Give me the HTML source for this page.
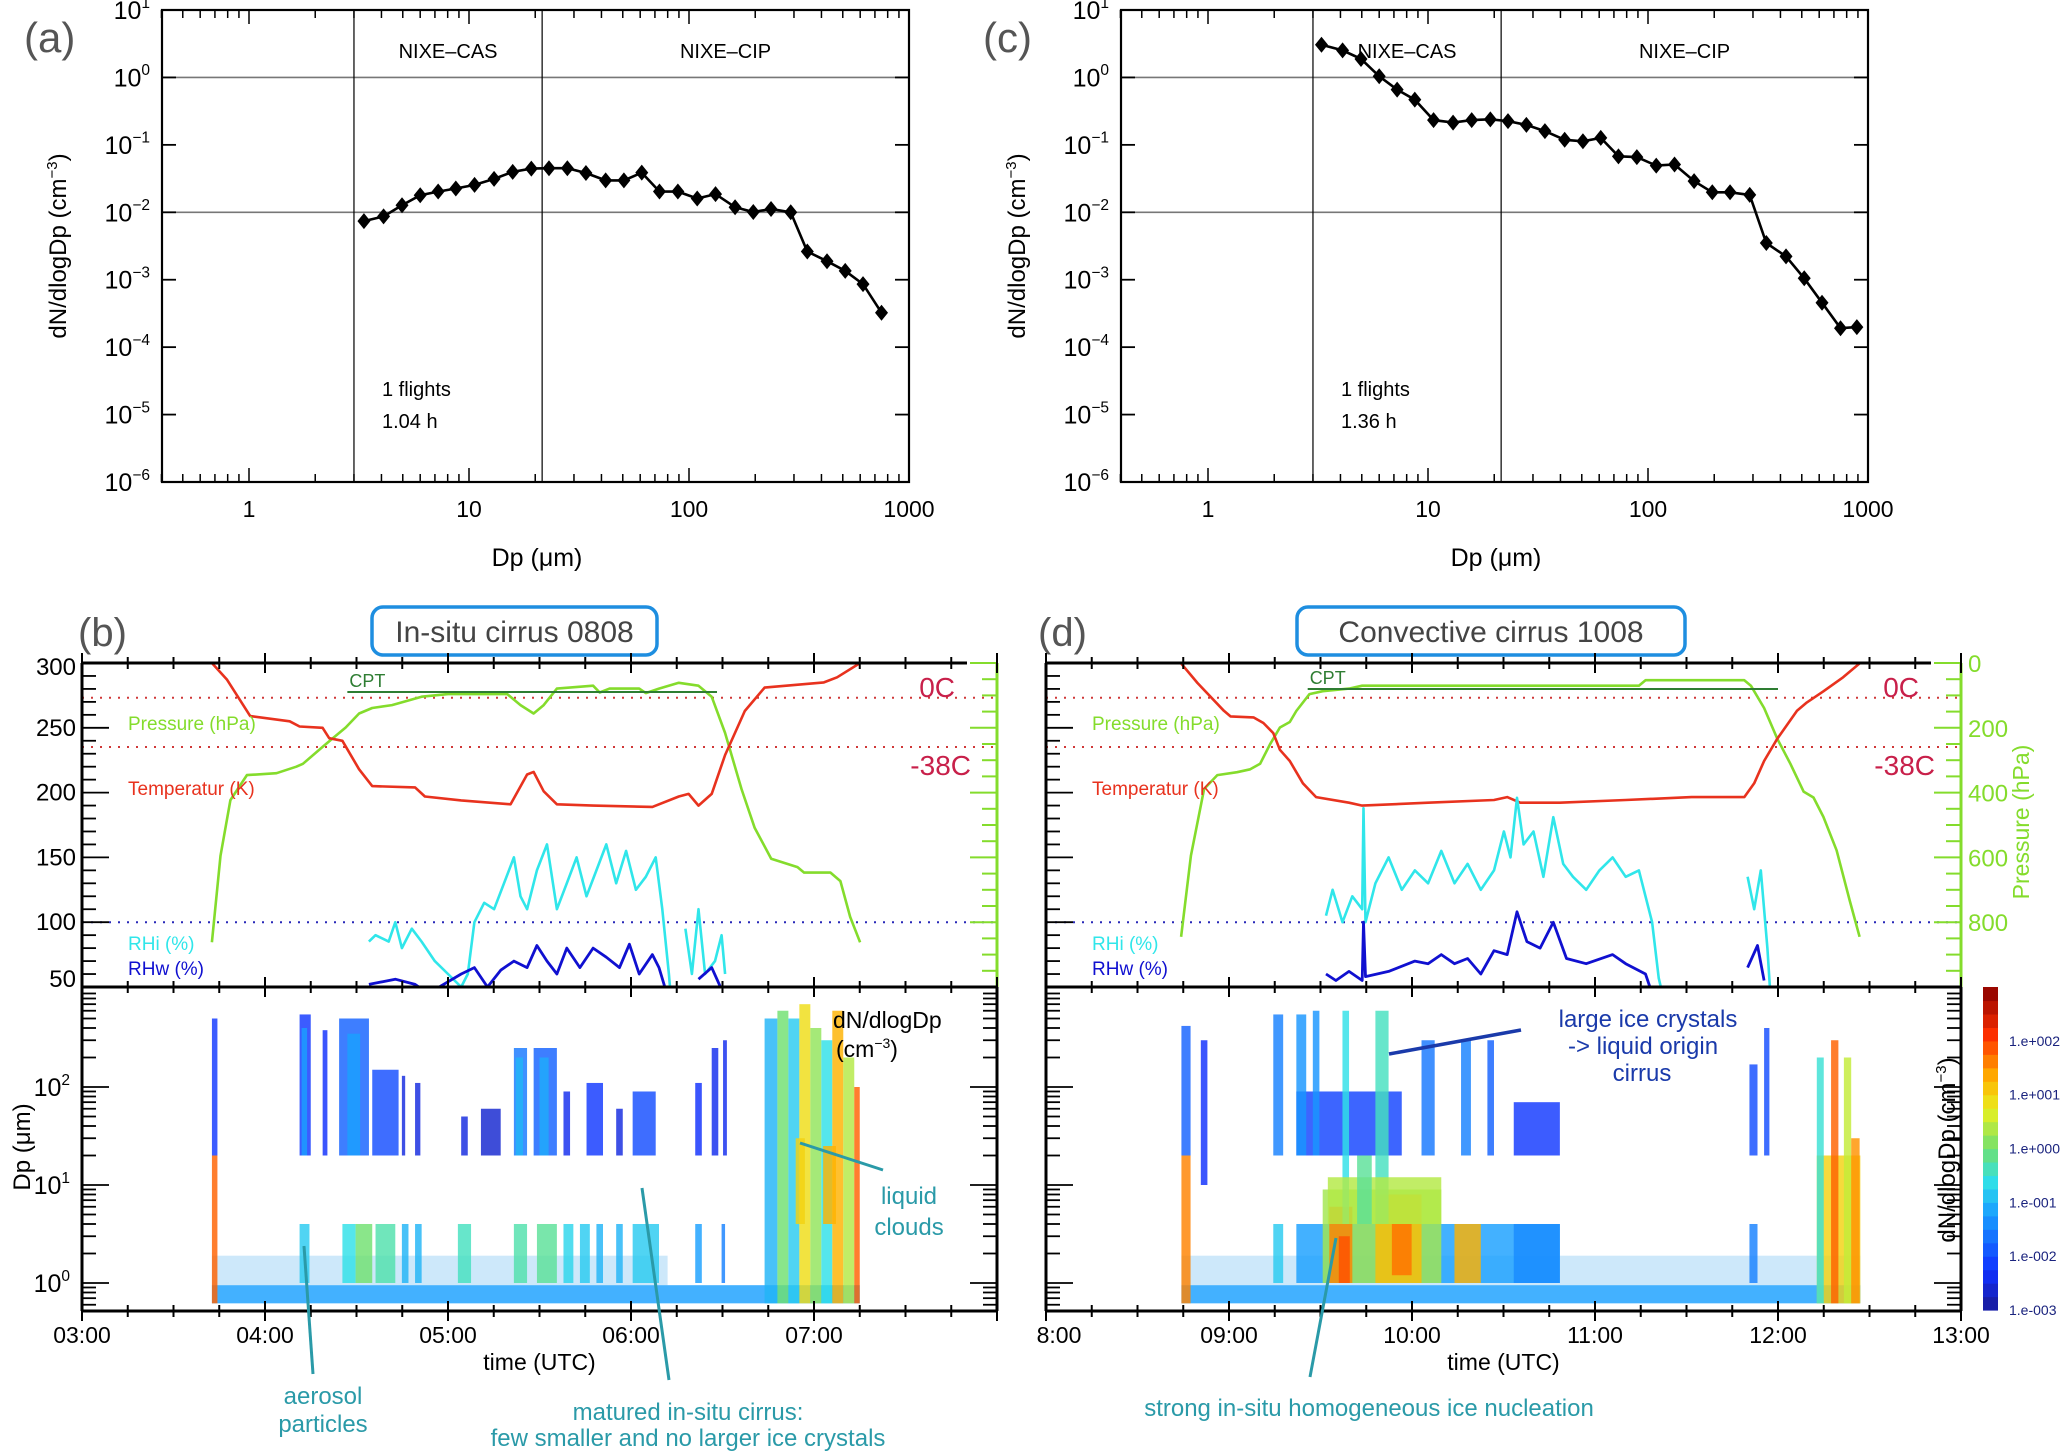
<!DOCTYPE html>
<html><head><meta charset="utf-8">
<style>
html,body{margin:0;padding:0;background:#fff;}
svg{display:block;font-family:"Liberation Sans",sans-serif;}
</style></head>
<body>
<svg id="fig" xmlns="http://www.w3.org/2000/svg" width="2067" height="1454" viewBox="0 0 2067 1454">
<rect x="0" y="0" width="2067" height="1454" fill="#fff"/>
</svg>
<script>
// ===== size distribution data =====
const dpBinsA = [3.33,4.09,4.96,6.0,7.24,8.71,10.6,13.0,15.8,19.2,23.1,28.0,34.0,41.8,50.6,61.0,73.4,89.0,109,132,162,196,236,290,345,424,513,618,750];
const dnA = [0.0074,0.0087,0.0127,0.0179,0.0203,0.0225,0.0255,0.0313,0.0397,0.0445,0.045,0.045,0.0382,0.0297,0.0297,0.0387,0.0203,0.0203,0.016,0.0186,0.0119,0.0101,0.0112,0.0100,0.00262,0.00188,0.00135,0.00086,0.000324];
const dpBinsC = [3.28,4.09,4.96,6.0,7.24,8.71,10.6,13.0,15.8,19.2,23.1,28.0,34.0,41.8,50.6,61.0,73.4,89.0,109,132,162,196,236,290,345,424,513,618,750,890];
const dnC = [3.05,2.52,1.88,1.04,0.659,0.468,0.233,0.214,0.233,0.239,0.225,0.198,0.160,0.119,0.113,0.127,0.0676,0.0659,0.0492,0.0512,0.029,0.0198,0.0198,0.0181,0.0035,0.00222,0.00105,0.000456,0.000191,0.000198];
const yTickExp = [1,0,-1,-2,-3,-4,-5,-6];
const xTickLabels = ["1","10","100","1000"];

// ===== time series (b) 0808 =====
const tTb = [3.710,3.793,3.919,4.135,4.189,4.315,4.351,4.423,4.514,4.586,4.820,4.874,5.072,5.342,5.432,5.468,5.523,5.595,5.793,6.117,6.261,6.315,6.369,6.441,6.514,6.622,6.730,7.054,7.126,7.252];
const Tb = [300,287,259,255,251,250,242,240,218,205,204,197,194,191,214,216,201,191,190,189,197,199,190,199,229,263,281,285,289,300];
const tPb = [3.710,3.757,3.811,3.901,4.063,4.171,4.207,4.315,4.369,4.441,4.514,4.586,4.694,4.856,5.000,5.324,5.396,5.468,5.523,5.595,5.793,5.829,5.883,6.045,6.081,6.153,6.261,6.369,6.441,6.514,6.604,6.676,6.766,6.910,6.946,7.090,7.144,7.198,7.252];
const Pb = [862,595,423,346,340,320,311,259,233,199,156,139,130,104,96,96,130,156,130,79,70,91,79,79,93,79,61,70,104,216,389,509,604,630,647,647,673,784,862];
const tRHib = [4.568,4.604,4.676,4.712,4.748,4.802,4.856,4.928,5.000,5.072,5.108,5.144,5.198,5.252,5.306,5.360,5.396,5.432,5.486,5.541,5.595,5.649,5.703,5.757,5.811,5.865,5.919,5.973,6.027,6.081,6.135,6.171,6.207,6.225,6.26,6.297,6.333,6.369,6.405,6.459,6.495,6.514];
const RHib = [85,90,85,100,80,95,85,70,60,50,60,100,115,110,130,150,120,110,140,160,110,130,150,120,140,160,130,155,125,135,150,110,60,30,null,95,60,110,60,70,90,60];
const tRHwb = [4.568,4.712,4.820,4.892,5.072,5.144,5.216,5.288,5.360,5.432,5.486,5.541,5.595,5.649,5.721,5.793,5.865,5.937,5.991,6.045,6.117,6.153,6.189,6.28,6.369,6.441,6.495];
const RHwb = [52,56,52,45,60,65,50,63,70,65,82,70,60,80,65,80,73,65,83,60,75,65,48,null,56,65,48];

// ===== time series (d) 1008 =====
const tTd = [8.738,8.828,8.972,9.008,9.134,9.188,9.242,9.278,9.332,9.404,9.476,9.656,9.728,10.088,10.448,10.520,10.592,10.808,11.168,11.528,11.816,11.870,11.924,11.996,12.104,12.158,12.248,12.356,12.446];
const Td = [299.7,284.6,263.1,258.8,258.0,253.7,245.9,233.0,224.4,207.2,196.5,192.2,190.0,192.2,194.3,196.5,192.2,192.2,194.3,196.5,196.5,207.2,224.4,241.6,263.1,269.6,278.2,289.0,299.7];
const tPd = [8.738,8.792,8.864,8.936,9.044,9.116,9.170,9.224,9.278,9.332,9.368,9.440,9.512,9.656,9.728,11.240,11.276,11.384,11.816,11.852,11.924,11.996,12.068,12.140,12.194,12.248,12.320,12.392,12.446];
const Pd = [845,595,389,346,337,328,311,251,199,182,148,96,87,79,70,70,53,53,53,70,139,234,311,397,415,475,578,733,845];
const tRHid = [9.530,9.566,9.620,9.674,9.728,9.735,9.746,9.800,9.872,9.944,10.016,10.088,10.160,10.232,10.304,10.376,10.448,10.502,10.538,10.574,10.610,10.664,10.718,10.772,10.826,10.880,10.952,11.024,11.096,11.168,11.240,11.276,11.312,11.348,11.384,11.6,11.834,11.870,11.906,11.942,11.960];
const RHid = [105,125,100,120,110,188,100,130,150,125,140,130,155,130,145,125,140,170,150,196,160,170,135,181,145,135,125,140,150,135,140,120,100,57,35,null,135,110,140,80,40];
const tRHwd = [9.530,9.584,9.656,9.728,9.735,9.746,9.872,10.016,10.088,10.160,10.232,10.304,10.376,10.448,10.520,10.574,10.628,10.700,10.772,10.844,10.952,11.096,11.168,11.276,11.312,11.6,11.834,11.888,11.924];
const RHwd = [60,55,62,55,100,58,62,70,68,75,68,72,60,78,75,108,85,80,100,72,68,75,68,60,45,null,65,82,55];

// ===== heatmap segments: start time, end time, Dp low, Dp high, log10 conc =====
const hmB_t0 = [3.71,3.71,3.71,4.189,4.423,4.495,4.604,4.748,4.820,5.054,5.360,5.486,5.631,5.721,5.811,5.919,6.009,6.351,6.495,4.189,4.315,4.405,4.586,4.748,4.820,5.072,5.180,5.360,5.468,5.631,5.757,5.919,6.009,6.351,6.441,6.503,4.20,4.45,5.37,5.50,6.73,6.80,6.86,6.92,6.98,7.04,7.10,7.16,7.22,6.90,7.05];
const hmB_t1 = [7.25,3.74,3.74,4.243,4.495,4.586,4.712,4.784,4.856,5.126,5.432,5.595,5.685,5.775,5.847,5.955,6.153,6.387,6.514,4.250,4.341,4.568,4.730,4.766,4.849,5.108,5.288,5.432,5.595,5.667,5.847,5.955,6.135,6.387,6.477,6.524,4.23,4.52,5.41,5.55,6.80,6.86,6.92,6.98,7.04,7.10,7.16,7.22,7.25,6.95,7.12];
const hmB_d0 = [0.62,0.62,20,1.0,1.0,1.0,1.0,1.0,1.0,1.0,1.0,1.0,1.0,1.0,1.0,1.0,1.0,1.0,1.0,20,20,20,20,20,20,20,20,20,20,20,20,20,20,20,20,20,20,20,20,20,0.62,0.62,0.62,0.62,0.62,0.62,0.62,0.62,0.62,4,4];
const hmB_d1 = [0.95,20,500,4,4,4,4,4,4,4,4,4,4,4,4,4,4,4,4,550,380,500,150,130,110,50,60,250,250,90,110,60,90,110,250,300,400,350,200,200,500,600,500,700,400,300,600,200,100,30,25];
const hmB_v = [-1.2,1.8,-2.2,-0.8,-0.6,0.0,-0.3,-1.0,-1.0,-0.4,-0.3,-0.2,-0.7,-0.8,-1.0,-1.0,-0.8,-1.2,-1.5,-2.2,-2.3,-1.8,-2.0,-2.5,-2.5,-2.5,-2.6,-1.6,-1.8,-2.4,-2.2,-2.5,-2.0,-2.3,-2.4,-2.4,-1.2,-1.2,-1.0,-1.1,-1.0,0.0,-0.8,0.9,0.2,-0.6,1.3,0.4,1.8,1.0,1.3];
const hmB_faint = [3.71,6.20];

const hmD_t0 = [8.74,8.74,8.74,8.846,9.242,9.242,9.368,9.512,9.548,9.800,9.890,10.232,10.556,9.368,9.368,9.458,9.620,9.800,10.052,10.268,10.412,10.556,11.844,11.844,11.924,12.212,12.212,12.29,12.36,12.40,9.54,9.70,9.60];
const hmD_t1 = [12.45,8.79,8.79,8.882,9.296,9.296,10.808,10.160,9.674,10.052,9.998,10.376,10.808,9.944,9.422,9.494,9.656,9.872,10.124,10.322,10.448,10.808,11.888,11.888,11.953,12.45,12.25,12.33,12.40,12.446,10.16,9.78,9.66];
const hmD_d0 = [0.62,0.62,20,10,20,1,1,1,1,1,1.2,1,1,20,20,20,4,4,20,20,20,20,20,1,20,0.62,0.62,0.62,0.62,0.62,4,4,1];
const hmD_d1 = [0.95,20,420,300,550,4,4,9,6,8,4,4,4,90,550,600,600,600,300,300,300,70,170,4,400,20,200,300,200,30,12,20,3];
const hmD_v = [-1.2,1.6,-1.8,-2.3,-1.5,-0.8,-1.2,0.3,1.6,1.2,1.7,1.3,-1.4,-2.1,-1.3,-1.3,-0.6,-0.4,-1.6,-1.5,-1.8,-2.2,-2.0,-1.5,-2.0,1.0,-0.5,1.8,0.5,1.5,0.4,-0.2,1.9];
const hmD_faint = [8.74,12.45];

const cbarLabels = ["1.e+002","1.e+001","1.e+000","1.e-001","1.e-002","1.e-003"];
const cbarExps = [2,1,0,-1,-2,-3];

const NS = "http://www.w3.org/2000/svg";
const svg = document.getElementById('fig');

function mk(tag, attrs, name, parent) {
  const el = document.createElementNS(NS, tag);
  for (const k in attrs) el.setAttribute(k, attrs[k]);
  
  
  (parent || svg).appendChild(el);
  return el;
}
function txt(x, y, s, attrs, name, parent) {
  const a = Object.assign({x: x, y: y}, attrs);
  const t = mk('text', a, name, parent);
  t.textContent = s;
  return t;
}
function supText(x, y, base, sup, size, anchor, name, parent) {
  const t = mk('text', {x: x, y: y, 'font-size': size, 'text-anchor': anchor || 'end', fill: '#000'}, name, parent);
  const s1 = document.createElementNS(NS, 'tspan');
  s1.textContent = base;
  t.appendChild(s1);
  const s2 = document.createElementNS(NS, 'tspan');
  s2.setAttribute('dy', -size * 0.45);
  s2.setAttribute('font-size', size * 0.62);
  s2.textContent = sup;
  t.appendChild(s2);
  return t;
}
function line(x1, y1, x2, y2, stroke, w, name, parent, extra) {
  return mk('line', Object.assign({x1: x1, y1: y1, x2: x2, y2: y2, stroke: stroke, 'stroke-width': w}, extra || {}), name, parent);
}

// ===== jet-like colormap =====
const cmStops = [[0,[26,26,150]],[0.12,[16,48,255]],[0.3,[26,160,255]],[0.4,[48,224,232]],[0.5,[112,224,112]],[0.62,[232,240,32]],[0.72,[255,176,0]],[0.85,[255,48,0]],[1,[138,0,0]]];
function cmap(v) {
  let t = (v + 3) / 6; t = Math.max(0, Math.min(1, t));
  for (let i = 1; i < cmStops.length; i++) {
    if (t <= cmStops[i][0]) {
      const a = cmStops[i-1], b = cmStops[i], f = (t - a[0]) / (b[0] - a[0]);
      const c = a[1].map((q, j) => Math.round(q + (b[1][j] - q) * f));
      return 'rgb(' + c.join(',') + ')';
    }
  }
  return 'rgb(138,0,0)';
}

// ===== size distribution panels =====
function drawSD(ox, dps, dns, letter, flights, hrs, pname) {
  const g = mk('g', {}, pname);
  const L = 162 + ox, R = 909 + ox, T = 10, B = 482;
  const xs = d => ox + 249 + 220 * Math.log10(d);
  const ys = v => 10 + (1 - Math.log10(v)) * 67.43;
  txt(ox + 24, 52, '(' + letter + ')', {'font-size': 42, fill: '#555'}, 'panel-label-' + letter, g);
  [1, 0.01].forEach(v => line(L, ys(v), R, ys(v), '#777', 1.6, 'grid-line', g));
  line(xs(3.0), T, xs(3.0), B, '#000', 1.2, 'instrument-boundary-cas', g);
  line(xs(21.5), T, xs(21.5), B, '#000', 1.2, 'instrument-boundary-cip', g);
  txt((xs(3.0) + xs(21.5)) / 2, 58, 'NIXE–CAS', {'font-size': 20, 'text-anchor': 'middle'}, 'nixe-cas-label', g);
  txt((xs(21.5) + R) / 2, 58, 'NIXE–CIP', {'font-size': 20, 'text-anchor': 'middle'}, 'nixe-cip-label', g);
  for (let e = -1; e <= 2; e++) for (let k = 1; k <= 9; k++) {
    const d = k * Math.pow(10, e);
    if (d < 0.4 || d > 1000) continue;
    const len = k === 1 ? 14 : 8;
    line(xs(d), B, xs(d), B - len, '#000', 1.5, 'x-tick', g);
    line(xs(d), T, xs(d), T + len, '#000', 1.5, 'x-tick-top', g);
  }
  line(xs(1000), B, xs(1000), B - 14, '#000', 1.5, 'x-tick', g);
  xTickLabels.forEach((s) => txt(xs(+s), 517, s, {'font-size': 23, 'text-anchor': 'middle'}, 'x-tick-label', g));
  yTickExp.forEach(e => {
    const y = ys(Math.pow(10, e));
    line(L, y, L + 14, y, '#000', 1.8, 'y-tick', g);
    line(R, y, R - 14, y, '#000', 1.8, 'y-tick-right', g);
    supText(L - 12, y + 9, '10', e < 0 ? '−' + (-e) : String(e), 25, 'end', 'y-tick-label', g);
  });
  mk('rect', {x: L, y: T, width: R - L, height: B - T, fill: 'none', stroke: '#000', 'stroke-width': 2.2}, 'plot-frame', g);
  const yt = mk('text', {x: 0, y: 0, 'font-size': 24, 'text-anchor': 'middle', transform: 'translate(' + (ox + 66) + ',246) rotate(-90)'}, 'y-axis-title', g);
  yt.textContent = 'dN/dlogDp (cm';
  const ys1 = document.createElementNS(NS, 'tspan'); ys1.setAttribute('dy', -9); ys1.setAttribute('font-size', 15); ys1.textContent = '−3'; yt.appendChild(ys1);
  const ys2 = document.createElementNS(NS, 'tspan'); ys2.setAttribute('dy', 9); ys2.textContent = ')'; yt.appendChild(ys2);
  txt(ox + 537, 566, 'Dp (μm)', {'font-size': 25, 'text-anchor': 'middle'}, 'x-axis-title', g);
  txt(ox + 382, 396, flights, {'font-size': 20}, 'flights-count', g);
  txt(ox + 382, 428, hrs, {'font-size': 20}, 'flight-hours', g);
  const pts = dps.map((d, i) => xs(d).toFixed(1) + ',' + ys(dns[i]).toFixed(1)).join(' ');
  mk('polyline', {points: pts, fill: 'none', stroke: '#000', 'stroke-width': 2.6}, 'size-distribution-line', g);
  dps.forEach((d, i) => {
    const x = xs(d), y = ys(dns[i]);
    mk('polygon', {points: [x, y - 8, x + 6.5, y, x, y + 8, x - 6.5, y].join(','), fill: '#000'}, 'data-point', g);
  });
}
drawSD(0, dpBinsA, dnA, 'a', '1 flights', '1.04 h', 'panel-a');
drawSD(959, dpBinsC, dnC, 'c', '1 flights', '1.36 h', 'panel-c');

// ===== time series panels =====
const TOP = 663, MID = 987, BOT = 1311;
function drawTS(cfg) {
  const g = mk('g', {}, cfg.pname);
  const x0 = cfg.x0, x1 = x0 + 915, h0 = cfg.h0;
  const tx = h => x0 + (h - h0) * 183;
  const yv = v => TOP + (300 - v) * 1.296;
  const yp = p => TOP + p * 0.324;
  const yd = d => 1283 - 98 * Math.log10(d);
  const id = cfg.pname;
  const defs = mk('defs', {}, 'defs', g);
  const c1 = mk('clipPath', {id: id + 'c1'}, 'clip-upper', defs);
  mk('rect', {x: x0, y: TOP, width: 915, height: MID - TOP}, 'clip-rect', c1);
  const c2 = mk('clipPath', {id: id + 'c2'}, 'clip-lower', defs);
  mk('rect', {x: x0, y: MID, width: 915, height: BOT - MID}, 'clip-rect', c2);

  mk('rect', {x: cfg.box[0], y: 607, width: cfg.box[1], height: 48, rx: 11, fill: '#fff', stroke: '#1e8ee0', 'stroke-width': 3.5}, 'title-box', g);
  txt(cfg.box[0] + cfg.box[1] / 2, 642, cfg.title, {'font-size': 30, 'text-anchor': 'middle', fill: '#444'}, 'panel-title', g);
  txt(cfg.lx, 646, cfg.letter, {'font-size': 40, fill: '#555'}, 'panel-label', g);

  const hg = mk('g', {'clip-path': 'url(#' + id + 'c2)'}, 'heatmap', g);
  mk('rect', {x: tx(cfg.faint[0]), y: yd(1.9), width: tx(cfg.faint[1]) - tx(cfg.faint[0]), height: yd(0.95) - yd(1.9), fill: '#5ab4f0', opacity: 0.3}, 'heatmap-faint-band', hg);
  for (let i = 0; i < cfg.t0.length; i++) {
    mk('rect', {x: tx(cfg.t0[i]), y: yd(cfg.d1[i]), width: Math.max(1.5, tx(cfg.t1[i]) - tx(cfg.t0[i])), height: yd(cfg.d0[i]) - yd(cfg.d1[i]), fill: cmap(cfg.v[i]), opacity: 0.82}, 'heatmap-cell', hg);
  }
  const ug = mk('g', {'clip-path': 'url(#' + id + 'c1)'}, 'profiles', g);
  line(x0, yv(273.15), x1, yv(273.15), '#d03838', 2, 'zero-celsius-line', ug, {'stroke-dasharray': '2,7'});
  line(x0, yv(235.15), x1, yv(235.15), '#d03838', 2, 'minus38-celsius-line', ug, {'stroke-dasharray': '2,7'});
  line(x0, yv(100), x1, yv(100), '#2828b8', 2, 'rh100-line', ug, {'stroke-dasharray': '2,7'});
  function series(ts, vs, f, color, w, name) {
    let seg = [];
    const segs = [];
    ts.forEach((t, i) => {
      if (vs[i] === null) { if (seg.length) segs.push(seg); seg = []; return; }
      seg.push(tx(t).toFixed(1) + ',' + f(vs[i]).toFixed(1));
    });
    if (seg.length) segs.push(seg);
    segs.forEach(s => mk('polyline', {points: s.join(' '), fill: 'none', stroke: color, 'stroke-width': w, 'stroke-linejoin': 'round'}, name, ug));
  }
  series(cfg.tP, cfg.P, yp, '#84dc2c', 2.6, 'pressure-line');
  series(cfg.tT, cfg.T, yv, '#e8321e', 2.6, 'temperature-line');
  series(cfg.tRHi, cfg.RHi, yv, '#30e6ea', 2.6, 'rhi-line');
  series(cfg.tRHw, cfg.RHw, yv, '#1010d0', 2.8, 'rhw-line');
  line(tx(cfg.cpt[0]), cfg.cpt[2], tx(cfg.cpt[1]), cfg.cpt[2], '#2e7d32', 2, 'cpt-line', g);
  txt(tx(cfg.cpt[0]) + 2, cfg.cpt[2] - 5, 'CPT', {'font-size': 18, fill: '#2e7d32'}, 'cpt-label', g);
  txt(x0 + 46, 730, 'Pressure (hPa)', {'font-size': 19, fill: '#84dc2c'}, 'pressure-legend', g);
  txt(x0 + 46, 795, 'Temperatur (K)', {'font-size': 19, fill: '#e8321e'}, 'temperature-legend', g);
  txt(x0 + 46, 950, 'RHi (%)', {'font-size': 19, fill: '#30e6ea'}, 'rhi-legend', g);
  txt(x0 + 46, 975, 'RHw (%)', {'font-size': 19, fill: '#1010d0'}, 'rhw-legend', g);
  txt(x0 + 873, 697, '0C', {'font-size': 28, fill: '#c8204a', 'text-anchor': 'end'}, 'zero-celsius-label', g);
  txt(x0 + 889, 775, '-38C', {'font-size': 28, fill: '#c8204a', 'text-anchor': 'end'}, 'minus38-celsius-label', g);

  for (let v = 50; v <= 300; v += 10) {
    const major = v % 50 === 0;
    line(x0, yv(v), x0 + (major ? 27 : 14), yv(v), '#000', 1.8, 'left-tick', g);
    if (major && cfg.leftLabels) txt(x0 - 6, yv(v) + (v === 300 ? 12 : v === 50 ? 0 : 8), String(v), {'font-size': 24, 'text-anchor': 'end'}, 'left-tick-label', g);
  }
  for (let p = 0; p <= 1000; p += 50) {
    if (yp(p) > MID) continue;
    const major = p % 200 === 0;
    line(x1, yp(p), x1 - (major ? 27 : 15), yp(p), '#84dc2c', 2, 'pressure-tick', g);
    if (major && cfg.rightLabels && p <= 800) txt(x1 + 7, yp(p) + 9, String(p), {'font-size': 24, fill: '#84dc2c'}, 'pressure-tick-label', g);
  }
  line(x1, TOP, x1, MID, '#84dc2c', 3, 'pressure-axis', g);
  if (cfg.rightLabels) {
    txt(0, 0, 'Pressure (hPa)', {'font-size': 23, fill: '#84dc2c', 'text-anchor': 'middle', transform: 'translate(' + (x1 + 68) + ',822) rotate(-90)'}, 'pressure-axis-title', g);
  }
  for (let e = -1; e <= 2; e++) for (let k = 1; k <= 9; k++) {
    const d = k * Math.pow(10, e);
    if (yd(d) > BOT || yd(d) < MID) continue;
    const len = k === 1 ? 27 : 14;
    line(x0, yd(d), x0 + len, yd(d), '#000', 1.8, 'dp-tick', g);
    line(x1, yd(d), x1 - len, yd(d), '#000', 1.8, 'dp-tick-right', g);
  }
  if (cfg.leftLabels) {
    [0, 1, 2].forEach(e => supText(x0 - 12, yd(Math.pow(10, e)) + 9, '10', String(e), 25, 'end', 'dp-tick-label', g));
    txt(0, 0, 'Dp (μm)', {'font-size': 24, 'text-anchor': 'middle', transform: 'translate(30,1147) rotate(-90)'}, 'dp-axis-title', g);
  }
  for (let h = h0; h <= h0 + 5.001; h += 0.25) {
    const major = Math.abs(h - Math.round(h)) < 0.01;
    const len = major ? 10 : 6;
    [BOT, MID, TOP].forEach(y => {
      line(tx(h), y, tx(h), y - len, '#000', 2, 'time-tick', g);
      line(tx(h), y, tx(h), y + len, '#000', 2, 'time-tick', g);
    });
  }
  cfg.timeLabels.forEach((s, i) => {
    if (!s) return;
    txt(tx(h0 + i) + (cfg.firstShift && i === 0 ? 13 : 0), 1343, s, {'font-size': 23, 'text-anchor': 'middle'}, 'time-tick-label', g);
  });
  txt(tx(h0 + 2.5), 1370, 'time (UTC)', {'font-size': 23, 'text-anchor': 'middle'}, 'time-axis-title', g);
  line(x0, TOP, x1 - 30, TOP, '#000', 3, 'upper-top-axis', g);
  line(x0, TOP, x0, BOT, '#000', 3, 'left-axis', g);
  line(x0, MID, x1, MID, '#000', 3, 'middle-axis', g);
  line(x0, BOT, x1, BOT, '#000', 3, 'bottom-axis', g);
  line(x1, MID, x1, BOT, '#000', 3, 'right-axis-lower', g);
  return {g: g, tx: tx, yd: yd};
}

const pb = drawTS({pname: 'panel-b', x0: 82, h0: 3, box: [372, 285], title: 'In-situ cirrus 0808', letter: '(b)', lx: 78,
  tT: tTb, T: Tb, tP: tPb, P: Pb, tRHi: tRHib, RHi: RHib, tRHw: tRHwb, RHw: RHwb,
  t0: hmB_t0, t1: hmB_t1, d0: hmB_d0, d1: hmB_d1, v: hmB_v, faint: hmB_faint,
  cpt: [4.45, 6.47, 692], leftLabels: true, rightLabels: false,
  timeLabels: ['03:00', '04:00', '05:00', '06:00', '07:00', null]});
const pd = drawTS({pname: 'panel-d', x0: 1046, h0: 8, box: [1297, 388], title: 'Convective cirrus 1008', letter: '(d)', lx: 1038,
  tT: tTd, T: Td, tP: tPd, P: Pd, tRHi: tRHid, RHi: RHid, tRHw: tRHwd, RHw: RHwd,
  t0: hmD_t0, t1: hmD_t1, d0: hmD_d0, d1: hmD_d1, v: hmD_v, faint: hmD_faint,
  cpt: [9.43, 12.0, 689], leftLabels: false, rightLabels: true,
  timeLabels: ['8:00', '09:00', '10:00', '11:00', '12:00', '13:00'], firstShift: true});

txt(833, 1028, 'dN/dlogDp', {'font-size': 23}, 'heatmap-unit-label', pb.g);
const ul = txt(836, 1057, '(cm', {'font-size': 23}, 'heatmap-unit-label-2', pb.g);
const ulSup = document.createElementNS(NS, 'tspan'); ulSup.setAttribute('dy', -9); ulSup.setAttribute('font-size', 14); ulSup.textContent = '−3'; ul.appendChild(ulSup);
const ulEnd = document.createElementNS(NS, 'tspan'); ulEnd.setAttribute('dy', 9); ulEnd.textContent = ')'; ul.appendChild(ulEnd);

const cbg = mk('g', {}, 'colorbar');
const cbTop = 987, cbBot = 1310, cbX = 1983, cbW = 15;
const nSteps = 24;
for (let i = 0; i < nSteps; i++) {
  const v0 = -3 + 6 * i / nSteps, v1 = -3 + 6 * (i + 1) / nSteps;
  const yA = cbBot - (v1 + 3) / 6 * (cbBot - cbTop), yB = cbBot - (v0 + 3) / 6 * (cbBot - cbTop);
  mk('rect', {x: cbX, y: yA, width: cbW, height: yB - yA + 0.6, fill: cmap((v0 + v1) / 2)}, 'colorbar-step', cbg);
}
cbarLabels.forEach((s, i) => {
  const y = cbBot - (cbarExps[i] + 3) / 6 * (cbBot - cbTop);
  txt(2009, y + 5, s, {'font-size': 14, fill: '#1a237e'}, 'colorbar-tick-label', cbg);
});
const cbt = mk('text', {x: 0, y: 0, 'font-size': 24, 'text-anchor': 'middle', transform: 'translate(1955,1150) rotate(-90)'}, 'colorbar-title', cbg);
cbt.textContent = 'dN/dlogDp (cm';
const cbs1 = document.createElementNS(NS, 'tspan'); cbs1.setAttribute('dy', -9); cbs1.setAttribute('font-size', 15); cbs1.textContent = '−3'; cbt.appendChild(cbs1);
const cbs2 = document.createElementNS(NS, 'tspan'); cbs2.setAttribute('dy', 9); cbs2.textContent = ')'; cbt.appendChild(cbs2);

const an = mk('g', {}, 'annotations');
const teal = '#2a9aa8';
line(883, 1170, 800, 1143, teal, 3, 'liquid-clouds-pointer', an);
txt(909, 1204, 'liquid', {'font-size': 24, fill: teal, 'text-anchor': 'middle'}, 'liquid-clouds-label', an);
txt(909, 1235, 'clouds', {'font-size': 24, fill: teal, 'text-anchor': 'middle'}, 'liquid-clouds-label-2', an);
line(313, 1374, 304, 1246, teal, 3, 'aerosol-pointer', an);
txt(323, 1404, 'aerosol', {'font-size': 24, fill: teal, 'text-anchor': 'middle'}, 'aerosol-label', an);
txt(323, 1432, 'particles', {'font-size': 24, fill: teal, 'text-anchor': 'middle'}, 'aerosol-label-2', an);
line(669, 1380, 642, 1188, teal, 3, 'matured-cirrus-pointer', an);
txt(688, 1420, 'matured in-situ cirrus:', {'font-size': 24, fill: teal, 'text-anchor': 'middle'}, 'matured-cirrus-label', an);
txt(688, 1446, 'few smaller and no larger ice crystals', {'font-size': 24, fill: teal, 'text-anchor': 'middle'}, 'matured-cirrus-label-2', an);
line(1310, 1377, 1336, 1238, teal, 3, 'nucleation-pointer', an);
txt(1369, 1416, 'strong in-situ homogeneous ice nucleation', {'font-size': 24, fill: teal, 'text-anchor': 'middle'}, 'nucleation-label', an);
const blue = '#1a3aaa';
line(1389, 1054, 1521, 1030, blue, 3.5, 'large-ice-pointer', an);
txt(1648, 1027, 'large ice crystals', {'font-size': 24, fill: blue, 'text-anchor': 'middle'}, 'large-ice-label', an);
txt(1643, 1054, '-> liquid origin', {'font-size': 24, fill: blue, 'text-anchor': 'middle'}, 'large-ice-label-2', an);
txt(1642, 1081, 'cirrus', {'font-size': 24, fill: blue, 'text-anchor': 'middle'}, 'large-ice-label-3', an);
</script>
</body></html>
